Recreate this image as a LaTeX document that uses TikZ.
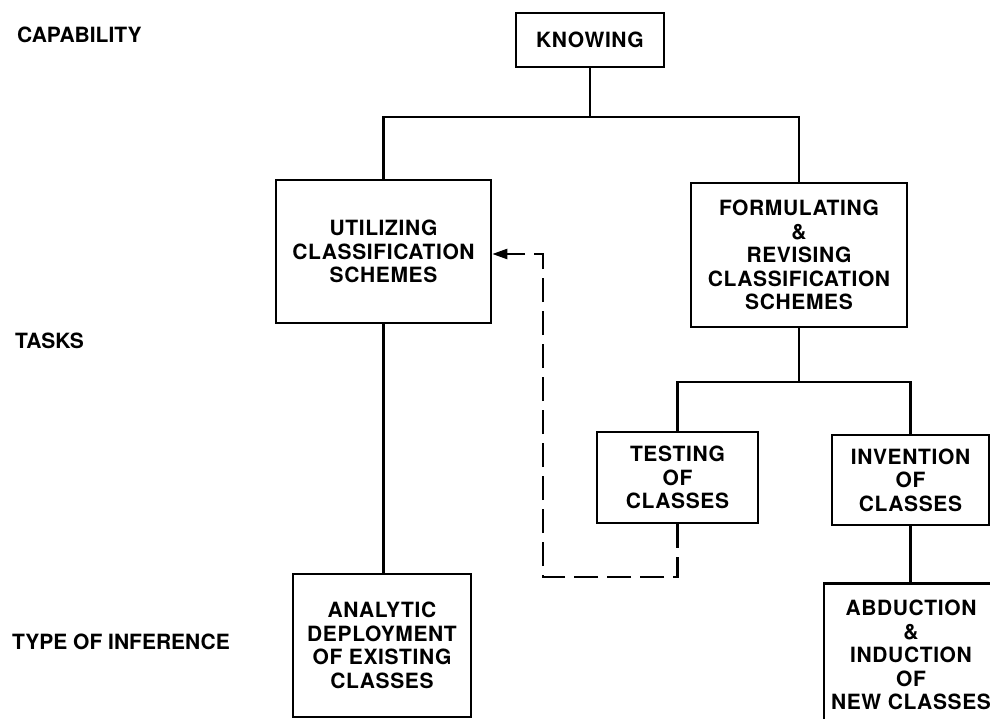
\documentclass[tikz,border=0pt]{standalone}
\usepackage{fontspec}
\setmainfont{TeX Gyre Heros}
\newfontfamily\boxfont[LetterSpace=3]{TeX Gyre Heros}
\usetikzlibrary{arrows.meta}

\begin{document}
\begin{tikzpicture}[x=1pt, y=-1pt,
  every node/.style={font=\bfseries\fontsize{21}{23.5}\selectfont},
  box/.style={draw, line width=2.6pt, line join=miter, inner sep=0pt, align=center,
              font=\boxfont\bfseries\fontsize{21}{23.5}\selectfont},
  boxtext/.style={inner sep=0pt, align=center,
              font=\boxfont\bfseries\fontsize{21}{23.5}\selectfont},
  link/.style={line width=2.6pt, line join=miter},
  feedback/.style={line width=2.3pt, dash pattern=on 24pt off 9pt,
                   -{Triangle[length=15pt, width=10pt]}},
  rowlabel/.style={anchor=base west, inner sep=0pt}
]
\useasboundingbox (0,0) rectangle (990,719);
\begin{scope}
\clip (0,0) rectangle (990,719);

% level labels
\node[rowlabel] (lcap)  at (17,43)  {CAPABILITY};
\node[rowlabel] (ltask) at (15,348) {TASKS};
\node[rowlabel] (linf)  at (12,649) {TYPE OF INFERENCE};

% boxes
\node[box, minimum width=148pt, minimum height=54pt]  (know) at (590,40)    {KNOWING};
\node[box, minimum width=215pt, minimum height=143pt] (util) at (383.5,251.5) {UTILIZING\\CLASSIFICATION\\SCHEMES};
\node[box, minimum width=216pt, minimum height=144pt] (form) at (799,255)   {FORMULATING\\\&\\REVISING\\CLASSIFICATION\\SCHEMES};
\node[box, minimum width=161pt, minimum height=91pt]  (test) at (677.5,477.5) {TESTING\\OF\\CLASSES};
\node[box, minimum width=157pt, minimum height=90pt]  (inv)  at (910.5,480) {INVENTION\\OF\\CLASSES};
\node[box, minimum width=178pt, minimum height=143pt] (anal) at (382,645.5) {ANALYTIC\\DEPLOYMENT\\OF EXISTING\\CLASSES};
\node[box, minimum width=178pt, minimum height=170pt, anchor=north] (abd) at (913,582) {};
\node[boxtext] (abdtext) at (911,655) {ABDUCTION\\\&\\INDUCTION\\OF\\NEW CLASSES};

% tree connectors
\coordinate (j1) at (590,117);
\coordinate (j2) at (799,382);
\draw[link] (know.south) -- (j1);
\draw[link] (util.north) |- (j1) -| (form.north);
\draw[link] (form.south) -- (j2);
\draw[link] (test.north) |- (j2) -| (inv.north);
\draw[link] (util.south) -- (util.south |- anal.north);
\draw[link] (inv.south) -- (inv.south |- abd.north);

% feedback from testing back to utilizing
\coordinate (fb1) at (543,577);
\coordinate (fb2) at (543,254);
\draw[feedback] (test.south) |- (fb1) -- (fb2) -- (fb2 -| util.east);
\end{scope}
\end{tikzpicture}
\end{document}
